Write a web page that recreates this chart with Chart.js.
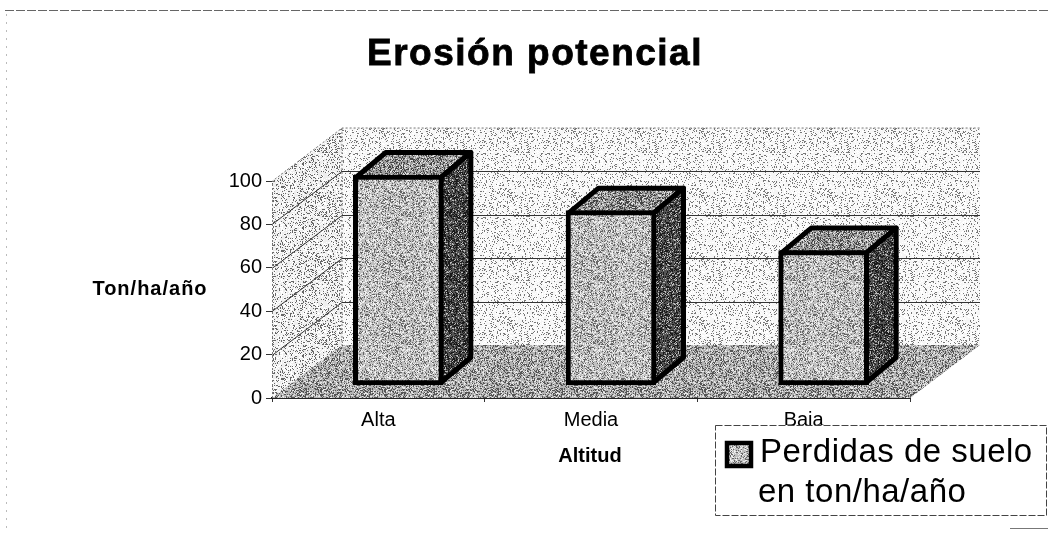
<!DOCTYPE html>
<html><head><meta charset="utf-8">
<style>html,body{margin:0;padding:0;background:#fff;overflow:hidden}canvas{display:block}</style>
<script src="https://cdn.jsdelivr.net/npm/chart.js@4"></script>
</head><body><canvas id="c" width="1048" height="533"></canvas>
<script>
const categories = ['Alta', 'Media', 'Baja'];
const seriesLabelLines = ['Perdidas de suelo', 'en ton/ha/año'];
const lossValues = [100, 83, 64];
const yTickValues = [0, 20, 40, 60, 80, 100];
const chartTitle = 'Erosión potencial';
const yAxisTitle = 'Ton/ha/año';
const xAxisTitle = 'Altitud';

const wallDepth = { x: 70, y: -53 };
const barShift = { x: 20 };
const barDepth = { x: 30, y: -25 };
const FONT = '"Liberation Sans", Arial, sans-serif';

function dither(base, dark, darkShare, light, lightShare) {
  // fixed hash stipple, imitates the scanned halftone
  const size = 64, c = document.createElement('canvas');
  c.width = c.height = size;
  const x = c.getContext('2d');
  x.fillStyle = base; x.fillRect(0, 0, size, size);
  for (let j = 0; j < size; j++) for (let i = 0; i < size; i++) {
    const h = Math.abs(Math.sin(i * 12.9898 + j * 78.233) * 43758.5453) % 1;
    if (h < darkShare) { x.fillStyle = dark; x.fillRect(i, j, 1, 1); }
    else if (h > 1 - lightShare) { x.fillStyle = light; x.fillRect(i, j, 1, 1); }
  }
  return x.createPattern(c, 'repeat');
}
const pWall = dither('#f6f6f6', '#777', 0.14, '#fff', 0.3),
      pSide = dither('#eeeeee', '#666', 0.18, '#fff', 0.3),
      pFloor = dither('#b4b4b4', '#555', 0.28, '#e8e8e8', 0.2),
      pFront = dither('#c0c0c0', '#666', 0.22, '#f0f0f0', 0.25),
      pTop = dither('#a0a0a0', '#444', 0.30, '#e0e0e0', 0.2),
      pDark = dither('#555555', '#1a1a1a', 0.35, '#bbb', 0.15);

function poly(ctx, pts, fill) {
  ctx.beginPath();
  pts.forEach((p, i) => i ? ctx.lineTo(p[0], p[1]) : ctx.moveTo(p[0], p[1]));
  ctx.closePath();
  if (fill) { ctx.fillStyle = fill; ctx.fill(); }
}

const scene = {
  id: 'scene',
  beforeDatasetsDraw(chart) {
    const { ctx, chartArea: a, scales } = chart, y = scales.y;
    const d = wallDepth, y0 = y.getPixelForValue(0), yM = y.getPixelForValue(100);
    ctx.save();
    // scan frame
    ctx.strokeStyle = '#666'; ctx.lineWidth = 1; ctx.setLineDash([9, 2]);
    ctx.beginPath(); ctx.moveTo(5, 10.5); ctx.lineTo(1048, 10.5); ctx.stroke();
    ctx.setLineDash([2, 6]); ctx.strokeStyle = '#bbb';
    ctx.beginPath(); ctx.moveTo(6.5, 14); ctx.lineTo(6.5, 528); ctx.stroke();
    ctx.setLineDash([]);
    // side wall, back wall, floor
    poly(ctx, [[a.left, y0], [a.left, yM], [a.left + d.x, yM + d.y], [a.left + d.x, y0 + d.y]], pSide);
    poly(ctx, [[a.left + d.x, yM + d.y], [a.right + d.x, yM + d.y], [a.right + d.x, y0 + d.y], [a.left + d.x, y0 + d.y]], pWall);
    poly(ctx, [[a.left, y0], [a.right, y0], [a.right + d.x, y0 + d.y], [a.left + d.x, y0 + d.y]], pFloor);
    // grid lines across walls
    ctx.strokeStyle = '#333'; ctx.lineWidth = 1;
    yTickValues.forEach(v => {
      if (v === 0 || v === 100) return;
      const py = Math.round(y.getPixelForValue(v)) + .5;
      ctx.beginPath(); ctx.moveTo(a.left, py); ctx.lineTo(a.left + d.x, py + d.y);
      ctx.lineTo(a.right + d.x, py + d.y); ctx.stroke();
    });
    // wall edge stipple
    ctx.strokeStyle = '#777'; ctx.setLineDash([2, 2]);
    ctx.beginPath(); ctx.moveTo(a.left + .5, y0); ctx.lineTo(a.left + .5, yM); ctx.lineTo(a.left + d.x, yM + d.y);
    ctx.lineTo(a.right + d.x, yM + d.y); ctx.moveTo(a.left + d.x, yM + d.y); ctx.lineTo(a.left + d.x, y0 + d.y); ctx.stroke();
    ctx.setLineDash([]);
    // 3D sides of bars
    const meta = chart.getDatasetMeta(0);
    meta.data.forEach(b => {
      const l = b.x - b.width / 2 + barShift.x, r = b.x + b.width / 2 + barShift.x;
      const inset = 2.5, dx = barDepth.x, dy = barDepth.y;
      ctx.lineWidth = 5; ctx.lineJoin = 'round'; ctx.strokeStyle = '#000';
      const T = b.y + inset, B = b.base - inset, L = l + inset, R = r - inset;
      poly(ctx, [[L, T], [L + dx, T + dy], [R + dx, T + dy], [R, T]], pTop); ctx.stroke();
      poly(ctx, [[R, T], [R + dx, T + dy], [R + dx, B + dy], [R, B]], pDark); ctx.stroke();
    });
    ctx.restore();
    ctx.save();
    ctx.translate(barShift.x, 0);
  },
  afterDatasetsDraw(chart) {
    const { ctx } = chart;
    ctx.restore();
    ctx.save();
    ctx.fillStyle = '#000';
    ctx.strokeStyle = '#000';
    ctx.textBaseline = 'alphabetic';
    ctx.textAlign = 'center';
    ctx.font = 'bold 37px ' + FONT;
    ctx.letterSpacing = '1.5px';
    ctx.lineWidth = 0.8;
    ctx.fillText(chartTitle, 535, 65);
    ctx.strokeText(chartTitle, 535, 65);
    ctx.font = 'bold 20px ' + FONT;
    ctx.letterSpacing = '1px';
    ctx.fillText(yAxisTitle, 150, 295);
    ctx.letterSpacing = '0px';
    ctx.fillText(xAxisTitle, 590, 462);
    // legend
    ctx.fillStyle = '#fff'; ctx.fillRect(715, 425, 332, 90);
    ctx.strokeStyle = '#444'; ctx.lineWidth = 1; ctx.setLineDash([7, 2]);
    ctx.strokeRect(715.5, 425.5, 331, 90);
    ctx.setLineDash([]);
    ctx.fillStyle = pFront; ctx.fillRect(727, 443, 24, 23);
    ctx.strokeStyle = '#000'; ctx.lineWidth = 4.5; ctx.strokeRect(727, 443, 24, 23);
    ctx.fillStyle = '#000'; ctx.textAlign = 'left';
    ctx.font = '33px ' + FONT;
    ctx.letterSpacing = '0.5px';
    ctx.fillText(seriesLabelLines[0], 760, 462);
    ctx.fillText(seriesLabelLines[1], 758, 502);
    ctx.letterSpacing = '0px';
    ctx.fillStyle = '#777'; ctx.fillRect(1010, 528, 38, 1);
    ctx.restore();
  }
};

new Chart(document.getElementById('c'), {
  type: 'bar',
  data: {
    labels: categories,
    datasets: [{
      label: seriesLabelLines.join(' '),
      data: lossValues,
      yAxisID: 'yBars',
      backgroundColor: pFront,
      borderColor: '#000',
      borderWidth: 5,
      borderSkipped: false,
      barThickness: 90,
      clip: false
    }]
  },
  options: {
    responsive: false,
    animation: false,
    layout: { padding: { left: 212, right: 138, top: 127, bottom: 105 } },
    plugins: { legend: { display: false }, title: { display: false }, tooltip: { enabled: false } },
    scales: {
      x: {
        type: 'category',
        offset: true,
        afterFit(s) { s.height = 30; },
        grid: { drawOnChartArea: false, color: '#333', tickLength: 4 },
        border: { color: '#222', width: 2 },
        ticks: { color: '#000', font: { family: FONT, size: 20 }, padding: 6, maxRotation: 0 }
      },
      y: {
        type: 'linear',
        min: 0, max: 124.9,
        afterFit(s) { s.width = 60; },
        afterBuildTicks(s) { s.ticks = yTickValues.map(v => ({ value: v })); },
        grid: { drawOnChartArea: false, color: '#333', tickLength: 6 },
        border: { display: false },
        ticks: { color: '#000', font: { family: FONT, size: 20 }, padding: 4 }
      },
      yBars: {
        type: 'linear',
        display: false,
        min: -6.19, max: 122.857
      }
    }
  },
  plugins: [scene]
});
</script></body></html>
